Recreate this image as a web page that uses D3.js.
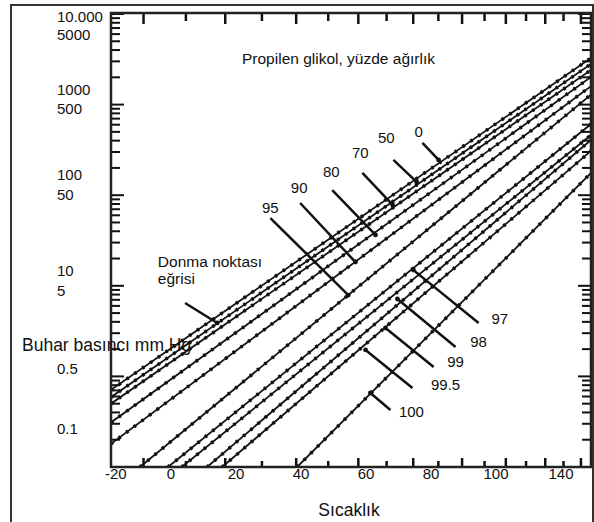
<!DOCTYPE html>
<html>
<head>
<meta charset="utf-8">
<script src="https://cdn.jsdelivr.net/npm/d3@7"></script>
<style>
body { margin: 0; background: #fff; }
text { font-family: "Liberation Sans", Arial, sans-serif; fill: #111; }
</style>
</head>
<body>
<svg id="chart" width="594" height="522"></svg>
<script>
// propylene glycol, weight percent
var series = ["0", "50", "70", "80", "90", "95", "97", "98", "99", "99.5", "100"];
// both ends of each line: [temperature °C, vapour pressure mmHg]
var lineStart = [[-17.2, 0.71], [-17.2, 0.59], [-17.2, 0.50], [-17.2, 0.31], [-17.2, 0.18],
                 [-10.8, 0.1], [-4.3, 0.1], [-1.0, 0.1], [5.3, 0.1], [9.2, 0.1], [30.3, 0.1]];
var lineEnd = [[156, 3270], [156, 2810], [156, 2410], [156, 2020], [156, 1600],
               [156, 1290], [156, 611], [156, 462], [156, 407], [156, 308], [156, 176]];
// pointer from each label to its line
var pointerFrom = [[73.6, 377], [62.5, 245], [51.4, 176], [41.3, 114], [31.2, 82], [22.4, 56],
                   [97.3, 3.89], [87.2, 2.11], [78.1, 1.27], [69.7, 0.745], [61.4, 0.426]];
var pointerTo = [[80.1, 245], [71.3, 140], [62.2, 78], [56.0, 36.4], [49.0, 18.3], [46.6, 7.9],
                 [70.1, 14.9], [64.0, 7.15], [59.6, 3.42], [52.5, 1.96], [54.2, 0.656]];
// where each series label sits (centre, baseline)
var labelAt = [[72.1, 439], [59.9, 377], [50.7, 257], [41.0, 159], [30.9, 106], [22.4, 63.6],
               [107.1, 3.79], [97.3, 2.11], [87.2, 1.27], [83.0, 0.708], [69.3, 0.356]];

// freezing point curve note
var freezeText = ["Donma noktası", "eğrisi"];
var freezeAt = [[-6.7, 16.1], [-6.7, 10.5]];
var freezeFrom = [-0.2, 6.46], freezeTo = [7.9, 3.89];

// axis ticks and labels as printed
var tempTicks = d3.range(-10, 151, 10);
var xTickText = ["-20", "0", "20", "40", "60", "80", "100", "140"];
var xTickAt = [-17, 0, 20, 40, 60, 80, 100, 120];
var yTickText = ["10.000", "5000", "1000", "500", "100", "50", "10", "5", "0.5", "0.1"];
var yTickAt = [8160, 5164, 1276, 787, 147, 88.5, 12.8, 7.72, 1.063, 0.2313];

var svg = d3.select("#chart");
var pLeft = 111, pRight = 591, pTop = 13, pBottom = 467;
var tMin = -17.2, tMax = 156;

function inv(t) { return 1000 / (t + 273.15); }
var xu = d3.scaleLinear().domain([inv(tMin), inv(tMax)]).range([pLeft, pRight]);
function x(t) { return xu(inv(t)); }
var y = d3.scaleLog().domain([0.1, 10000]).range([pBottom, pTop + 1]);
var xLab = d3.scaleLinear().domain([0, 120]).range([171, 561]);

// outer frame
svg.append("path")
    .attr("d", "M11,530V5H593V530")
    .attr("fill", "none").attr("stroke", "#333").attr("stroke-width", 2);

svg.append("clipPath").attr("id", "plot")
  .append("rect")
    .attr("x", pLeft).attr("y", pTop)
    .attr("width", pRight - pLeft).attr("height", pBottom - pTop);

// ticks: log minor ticks on the sides, temperature ticks on top and bottom
var yTicks = [];
for (var k = -1; k <= 3; k++)
    for (var m = 1; m <= 9; m++) yTicks.push(m * Math.pow(10, k));
yTicks.push(10000);

var ticks = svg.append("g").attr("stroke", "#111");
yTicks.forEach(function(v) {
    var len = Math.abs(Math.log10(v) % 1) < 1e-9 ? 13 : 9;
    ticks.append("line").attr("x1", pLeft).attr("x2", pLeft + len)
        .attr("y1", y(v)).attr("y2", y(v)).attr("stroke-width", 2);
    ticks.append("line").attr("x1", pRight).attr("x2", pRight - len)
        .attr("y1", y(v)).attr("y2", y(v)).attr("stroke-width", 2);
});
tempTicks.forEach(function(t, i) {
    var len = i % 2 ? 8 : 11;
    ticks.append("line").attr("x1", x(t)).attr("x2", x(t))
        .attr("y1", pTop).attr("y2", pTop + len).attr("stroke-width", 2.5);
    ticks.append("line").attr("x1", x(t)).attr("x2", x(t))
        .attr("y1", pBottom).attr("y2", pBottom - len + 2).attr("stroke-width", 2.5);
});

// the lines
var line = d3.line()
    .x(function(d) { return x(d[0]); })
    .y(function(d) { return y(d[1]); });

var lines = svg.append("g").attr("clip-path", "url(#plot)");
series.forEach(function(s, i) {
    var pts = [lineStart[i], lineEnd[i]];
    lines.append("path").attr("d", line(pts))
        .attr("fill", "none").attr("stroke", "#111").attr("stroke-width", 1.8);
    lines.append("path").attr("d", line(pts))
        .attr("fill", "none").attr("stroke", "#111").attr("stroke-width", 3.6)
        .attr("stroke-dasharray", "2.5 7");
});

// pointers and labels
var notes = svg.append("g");
function pointer(a, b) {
    notes.append("path").attr("d", line([a, b]))
        .attr("stroke", "#111").attr("stroke-width", 2.5).attr("fill", "none");
    notes.append("circle").attr("cx", x(b[0])).attr("cy", y(b[1])).attr("r", 2.4)
        .attr("fill", "#111");
}
series.forEach(function(s, i) {
    pointer(pointerFrom[i], pointerTo[i]);
    notes.append("text")
        .attr("x", x(labelAt[i][0])).attr("y", y(labelAt[i][1]))
        .attr("text-anchor", "middle").attr("font-size", 15)
        .text(s);
});
pointer(freezeFrom, freezeTo);
freezeText.forEach(function(s, i) {
    notes.append("text")
        .attr("x", x(freezeAt[i][0])).attr("y", y(freezeAt[i][1]))
        .attr("font-size", 15.5).text(s);
});

// plot frame
svg.append("rect")
    .attr("x", pLeft).attr("y", pTop)
    .attr("width", pRight - pLeft).attr("height", pBottom - pTop)
    .attr("fill", "none").attr("stroke", "#222").attr("stroke-width", 2.5);

// tick labels
svg.append("g").selectAll("text")
    .data(xTickText)
    .enter().append("text")
    .attr("x", function(d, i) { return xLab(xTickAt[i]); })
    .attr("y", pBottom + 12)
    .attr("text-anchor", "middle").attr("font-size", 15)
    .text(function(d) { return d; });

svg.append("g").selectAll("text")
    .data(yTickText)
    .enter().append("text")
    .attr("x", 57)
    .attr("y", function(d, i) { return y(yTickAt[i]); })
    .attr("font-size", 15)
    .text(function(d) { return d; });

// titles
svg.append("text").attr("x", 242).attr("y", 64).attr("font-size", 15.5)
    .text("Propilen glikol, yüzde ağırlık");
svg.append("text").attr("x", 22).attr("y", 351).attr("font-size", 17.5)
    .text("Buhar basıncı mm Hg");
svg.append("text").attr("x", 349).attr("y", 516).attr("text-anchor", "middle")
    .attr("font-size", 17.5).text("Sıcaklık");
</script>
</body>
</html>
